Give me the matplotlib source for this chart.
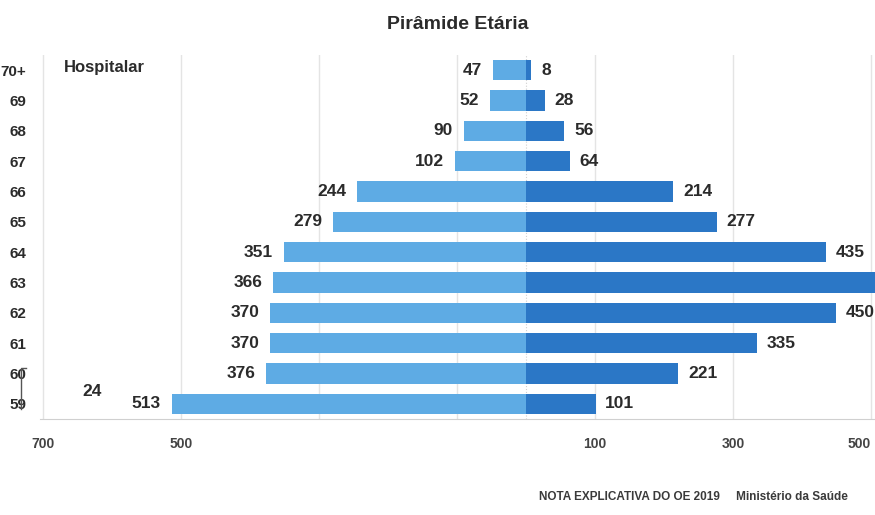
import matplotlib
matplotlib.use("Agg")
import matplotlib.pyplot as plt
from matplotlib.lines import Line2D

ages = ["70+", "69", "68", "67", "66", "65", "64", "63", "62", "61", "60", "59"]
left_vals = [47, 52, 90, 102, 244, 279, 351, 366, 370, 370, 376, 513]
right_vals = [8, 28, 56, 64, 214, 277, 435, 520, 450, 335, 221, 101]
right_labels = ["8", "28", "56", "64", "214", "277", "435", "", "450", "335", "221", "101"]
tick_vals = [-700, -500, -300, -100, 100, 300, 500]
tick_text = ["700", "500", "", "", "100", "300", "500"]

FONT = ["Liberation Sans", "DejaVu Sans"]
TXT = "#2b2b2b"
LEFT_C = "#5eabe4"
RIGHT_C = "#2b77c6"

fig = plt.figure(figsize=(8.75, 5.15), dpi=100)
ax = fig.add_axes([40 / 875, 96 / 515, 835 / 875, 364 / 515])

n = len(ages)
ys = list(range(n - 1, -1, -1))

ax.barh(ys, [-v for v in left_vals], height=0.66, color=LEFT_C, zorder=3)
ax.barh(ys, right_vals, height=0.66, color=RIGHT_C, zorder=3)

for y, v in zip(ys, left_vals):
    ax.annotate(str(v), xy=(-v, y), xytext=(-8, 0), textcoords="offset points",
                ha="right", va="center", fontsize=12.5, fontweight="bold",
                color=TXT, family=FONT)
for y, v, lab in zip(ys, right_vals, right_labels):
    if lab:
        ax.annotate(lab, xy=(v, y), xytext=(7, 0), textcoords="offset points",
                    ha="left", va="center", fontsize=12.5, fontweight="bold",
                    color=TXT, family=FONT)

ax.set_xlim(-704, 506)
ax.set_ylim(-0.5, n - 0.5)
ax.set_yticks(ys)
ax.set_yticklabels(ages, family=FONT, fontweight="bold", fontsize=11, color=TXT)
ax.set_xticks(tick_vals)
ax.set_xticklabels(tick_text, family=FONT, fontweight="bold", fontsize=10, color="#444444")
ax.get_xticklabels()[-1].set_horizontalalignment("right")
ax.tick_params(axis="both", length=0)
ax.tick_params(axis="x", pad=13)
ax.tick_params(axis="y", pad=10)

ax.grid(axis="x", color="#e4e4e4", linewidth=1, zorder=0)
ax.axvline(0, color="#d0d0d0", linewidth=0.8, linestyle=":", zorder=1)
for s in ["top", "right", "left"]:
    ax.spines[s].set_visible(False)
ax.spines["bottom"].set_color("#d0d0d0")

ax.set_title("Pirâmide Etária", family=FONT, fontweight="bold", fontsize=14,
             color=TXT, pad=19)

ax.text(0.028, 0.965, "Hospitalar", transform=ax.transAxes, family=FONT,
        fontweight="bold", fontsize=12, color=TXT, ha="left", va="center")
ax.text(92 / 875, 1 - 392 / 515, "24", transform=fig.transFigure, family=FONT,
        fontweight="bold", fontsize=12.5, color=TXT, ha="center", va="center")

# bracket-like scan mark near bottom age labels
fig.add_artist(Line2D([21 / 875, 21 / 875, 26 / 875], [1 - 409 / 515, 1 - 368 / 515, 1 - 368 / 515],
                      transform=fig.transFigure, color="#555555", linewidth=1.0))

fig.text(848 / 875, 1 - 497 / 515, "NOTA EXPLICATIVA DO OE 2019     Ministério da Saúde",
         family=FONT, fontsize=8.5, fontweight="bold", color="#3a3a3a",
         ha="right", va="center")

fig.savefig("out.png", dpi=100)
